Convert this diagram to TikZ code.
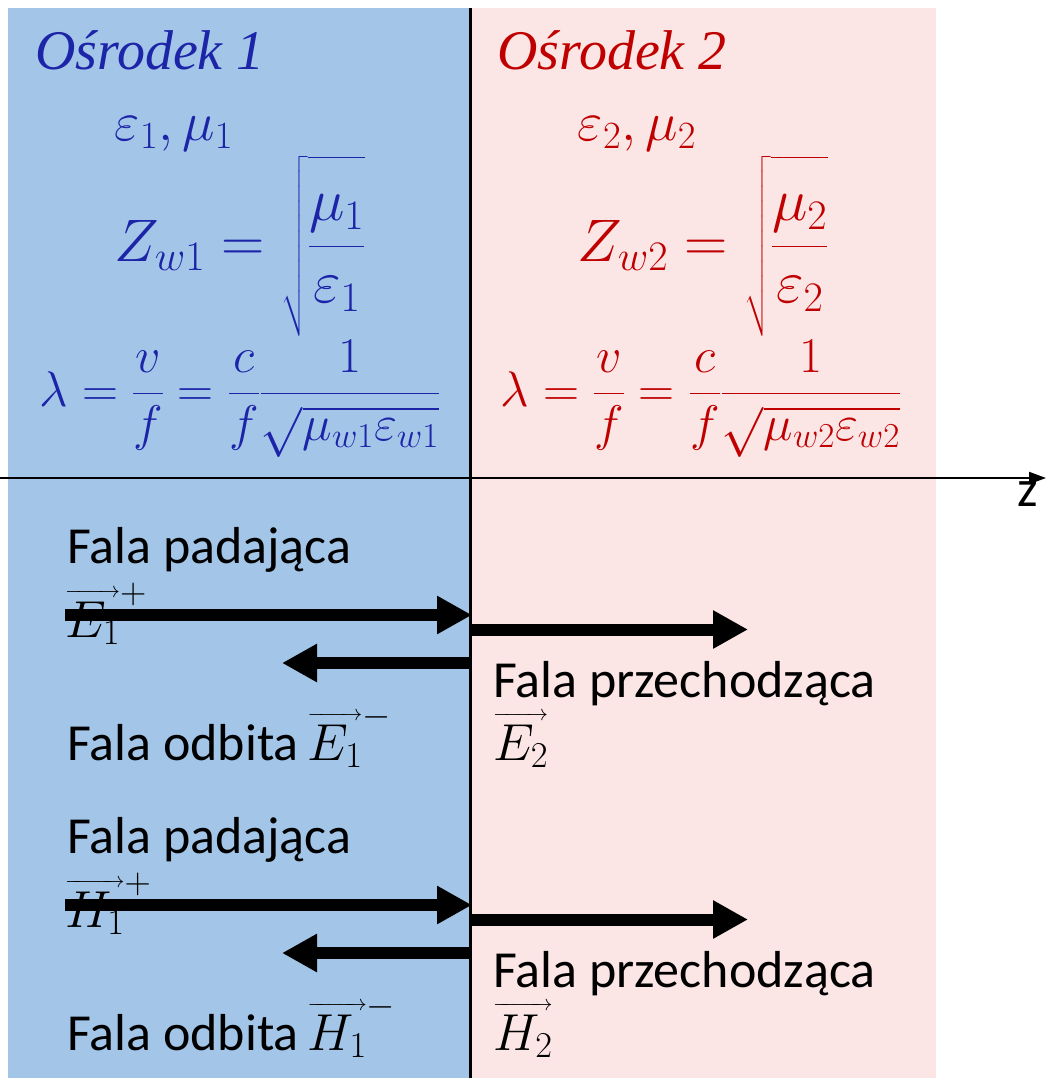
\RequirePackage{fix-cm}
\documentclass[tikz,border=0pt]{standalone}
\usepackage{amsmath}
\usepackage{fontspec}
\newfontfamily\carlito{Carlito}
\newfontfamily\osfont{Liberation Serif}
\usetikzlibrary{arrows.meta}
\definecolor{bluebg}{RGB}{163,198,232}
\definecolor{pinkbg}{RGB}{251,229,229}
\definecolor{bluetx}{RGB}{28,36,168}
\definecolor{redtx}{RGB}{192,0,0}
\newcommand\vecl[1]{\mathord{\vbox{\offinterlineskip\ialign{##\crcr{\fontsize{22}{22}\selectfont\rightarrowfill}\cr\noalign{\kern4pt}$\displaystyle#1$\cr}}}}
\newcommand\zfrac[2]{\sqrt{\frac{\rule{0pt}{50pt}#1}{#2\rule[-28pt]{0pt}{28pt}}}}
\tikzset{
  lbl/.style={inner sep=0pt, anchor=base west, font=\carlito\fontsize{52}{60}\selectfont},
  ttl/.style={inner sep=0pt, anchor=base west, font=\osfont\itshape\fontsize{56}{64}\selectfont},
  frm/.style={inner sep=0pt, font=\fontsize{50}{60}\selectfont},
  frmb/.style={inner sep=0pt, font=\fontsize{60}{70}\selectfont},
  fatarrow/.style={line width=12pt, -{Triangle[length=35pt,width=36pt]}},
}
\begin{document}
\begin{tikzpicture}[x=1pt,y=-1pt]
\useasboundingbox (0,0) rectangle (1050,1081);
% backgrounds
\fill[bluebg] (8,8) rectangle (470,1078);
\fill[pinkbg] (470,8) rectangle (936,1078);
% top texts
\node[ttl, text=bluetx] (t1) at (35,70) {Ośrodek 1};
\node[ttl, text=redtx] (t2) at (497,70) {Ośrodek 2};
\node[inner sep=0pt, font=\fontsize{55}{60}\selectfont, text=bluetx, anchor=base] (p1) at (174,140) {$\varepsilon_1,\mu_1$};
\node[inner sep=0pt, font=\fontsize{55}{60}\selectfont, text=redtx, anchor=base] (p2) at (637,140) {$\varepsilon_2,\mu_2$};
\node[frmb, text=bluetx] (z1) at (240,246) {$\displaystyle Z_{w1}=\zfrac{\mu_1}{\varepsilon_1}$};
\node[frmb, text=redtx] (z2) at (703,246) {$\displaystyle Z_{w2}=\zfrac{\mu_2}{\varepsilon_2}$};
\node[frm, text=bluetx] (l1) at (240,399) {$\displaystyle \lambda=\frac{v}{f}=\frac{c}{f}\frac{1}{\sqrt{\mu_{w1}\varepsilon_{w1}}}$};
\node[frm, text=redtx] (l2) at (701,399) {$\displaystyle \lambda=\frac{v}{f}=\frac{c}{f}\frac{1}{\sqrt{\mu_{w2}\varepsilon_{w2}}}$};
% bottom labels, E
\node[lbl] (fpE) at (67,563) {Fala padająca};
\node[lbl] (e1p) at (65,637) {$\vecl{E_1}^{+}$};
\node[lbl] (foE) at (67,760) {Fala odbita\,$\vecl{E_1}^{-}$};
\node[lbl] (fprE) at (493,697) {Fala przechodząca};
\node[lbl] (e2) at (493,760) {$\vecl{E_2}$};
% bottom labels, H
\node[lbl] (fpH) at (67,853) {Fala padająca};
\node[lbl] (h1p) at (65,927) {$\vecl{H_1}^{+}$};
\node[lbl] (foH) at (67,1050) {Fala odbita\,$\vecl{H_1}^{-}$};
\node[lbl] (fprH) at (493,987) {Fala przechodząca};
\node[lbl] (h2) at (493,1050) {$\vecl{H_2}$};
% arrow coordinates
\coordinate (aEs) at (65,615);  \coordinate (aEe) at (472,615);
\coordinate (tEs) at (472,629.5); \coordinate (tEe) at (748,629.5);
\coordinate (rEs) at (471,663); \coordinate (rEe) at (282,663);
\coordinate (aHs) at (65,905);  \coordinate (aHe) at (472,905);
\coordinate (tHs) at (472,919.5); \coordinate (tHe) at (748,919.5);
\coordinate (rHs) at (471,953); \coordinate (rHe) at (282,953);
\draw[fatarrow] (aEs) -- (aEe);
\draw[fatarrow] (tEs) -- (tEe);
\draw[fatarrow] (rEs) -- (rEe);
\draw[fatarrow] (aHs) -- (aHe);
\draw[fatarrow] (tHs) -- (tHe);
\draw[fatarrow] (rHs) -- (rHe);
% axes
\coordinate (vt) at (470,8); \coordinate (vb) at (470,1078);
\draw[line width=3pt] (vt) -- (vb);
\coordinate (ha) at (0,478); \coordinate (hb) at (1046,478);
\draw[line width=2pt, -{Triangle[length=17pt,width=12pt]}] (ha) -- (hb);
\node[inner sep=0pt, font=\carlito\fontsize{52}{60}\selectfont] (zl) at (1028,494) {z};
\end{tikzpicture}
\end{document}
